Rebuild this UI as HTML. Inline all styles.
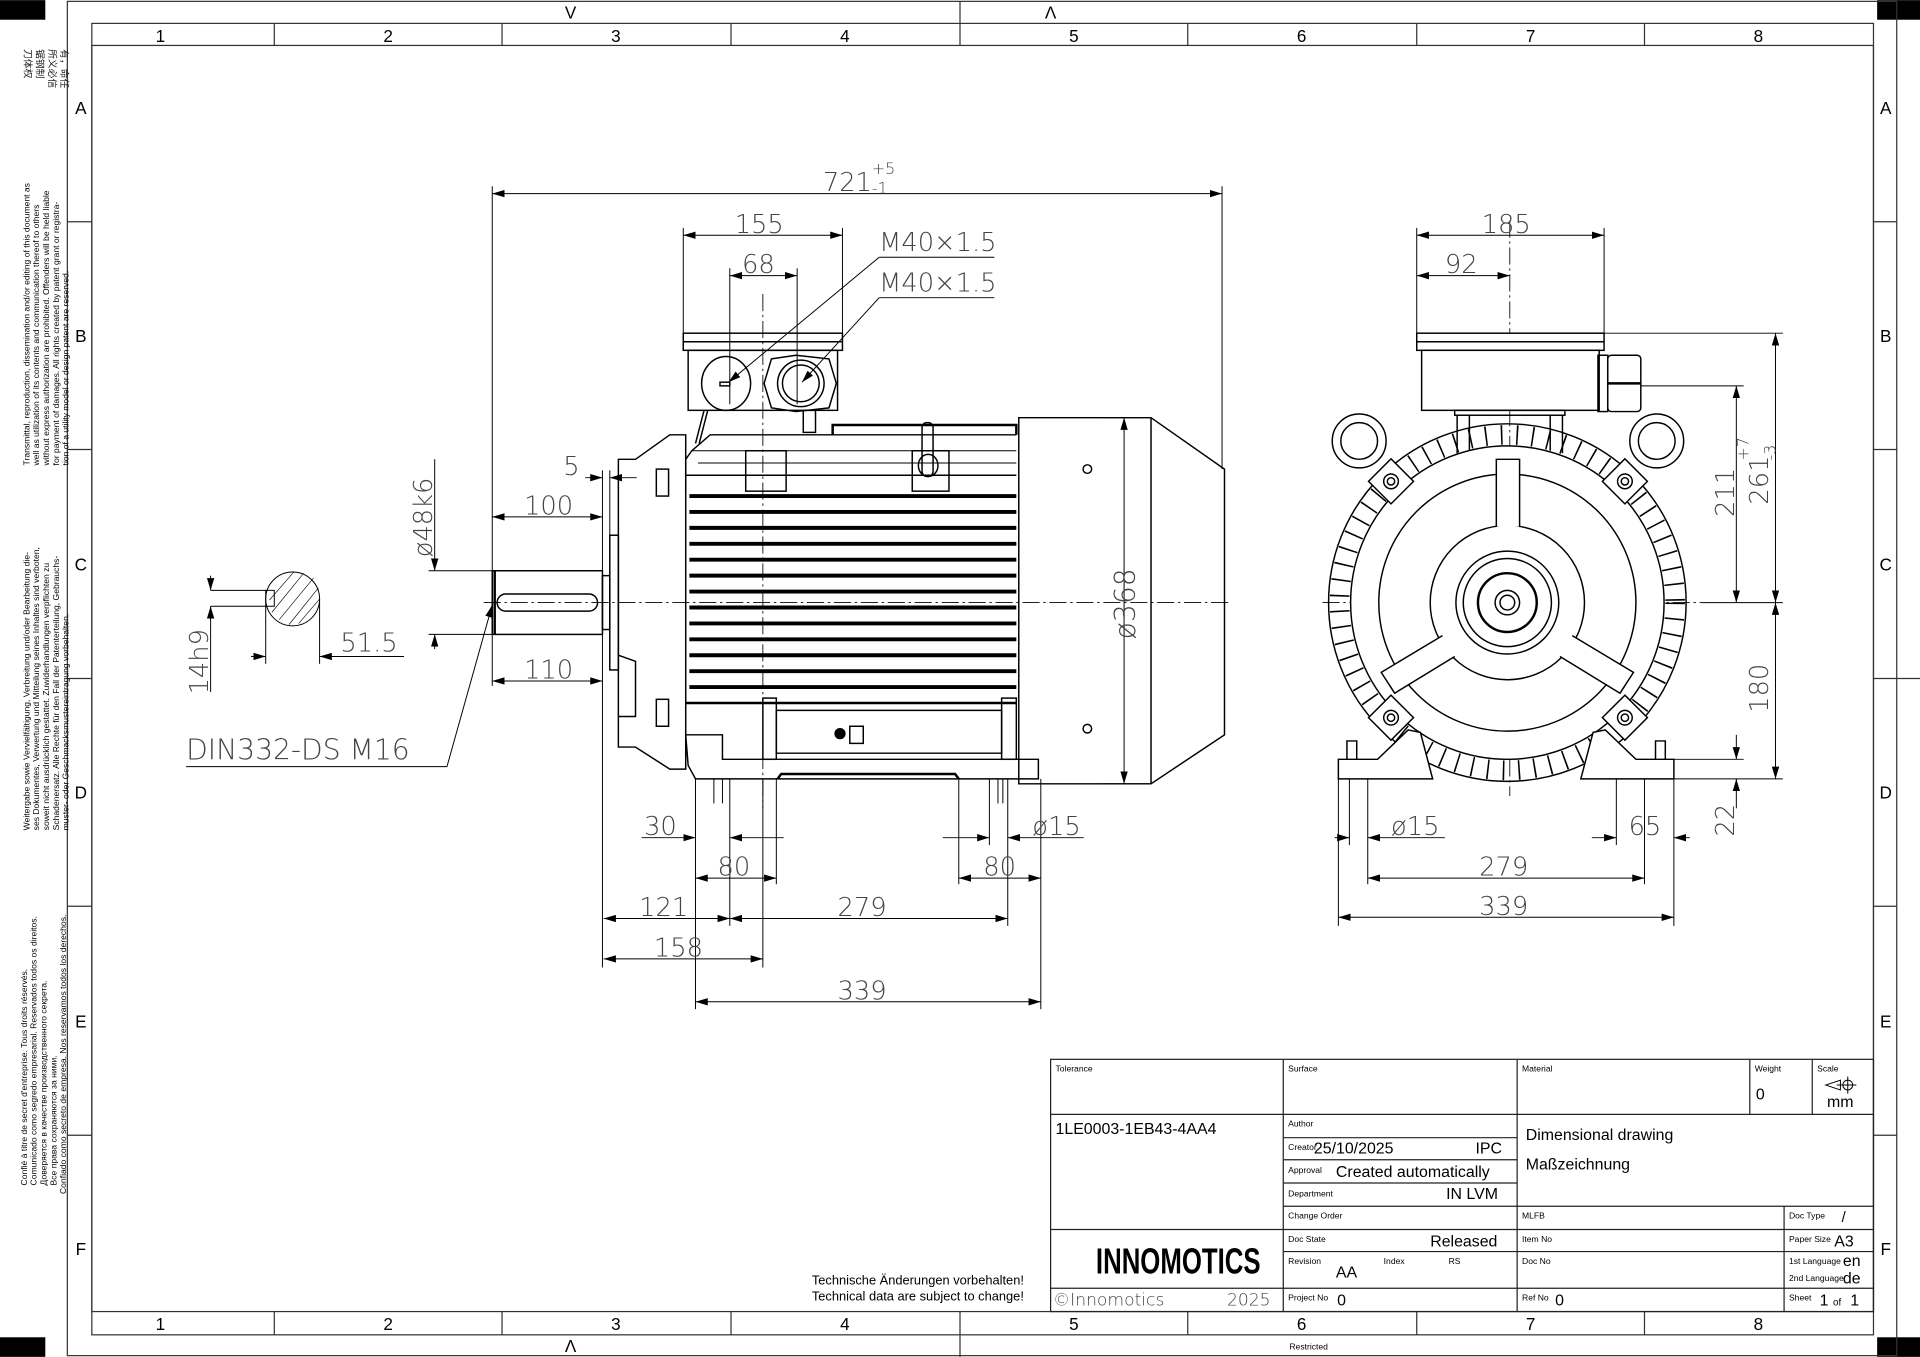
<!DOCTYPE html>
<html><head><meta charset="utf-8"><style>
html,body{margin:0;padding:0;background:#fff;}
svg{display:block;}
.d{font-family:"DejaVu Sans","Liberation Sans",sans-serif;font-weight:200;fill:#444;font-size:21px;}
.t{font-family:"Liberation Sans",sans-serif;fill:#000;}
.s{font-family:"Liberation Sans",sans-serif;font-size:7px;fill:#000;}
</style></head><body>
<svg width="1920" height="1357" viewBox="0 0 1568 1108" xmlns="http://www.w3.org/2000/svg">
<defs>
<marker id="a" viewBox="0 0 10 6" refX="10" refY="3" markerWidth="10" markerHeight="6" orient="auto-start-reverse" markerUnits="userSpaceOnUse"><path d="M0,0 L10,3 L0,6z" fill="#000"/></marker>
</defs>
<rect width="1568" height="1108" fill="#fff"/>
<rect x="0" y="0" width="37" height="16" fill="#000"/>
<rect x="0" y="1092" width="37" height="16" fill="#000"/>
<rect x="1533" y="0" width="35" height="16" fill="#000"/>
<rect x="1533" y="1092" width="35" height="16" fill="#000"/>
<g fill="none" stroke="#333" stroke-width="1">
<rect x="55" y="1" width="1494" height="1106"/>
<rect x="75" y="19" width="1455" height="1071"/>
<rect x="75" y="37" width="1455" height="1034"/>
<line x1="55" y1="554" x2="75" y2="554"/><line x1="1530" y1="554" x2="1568" y2="554"/>
<line x1="75" y1="181" x2="55" y2="181"/><line x1="75" y1="367" x2="55" y2="367"/><line x1="75" y1="740" x2="55" y2="740"/><line x1="75" y1="927" x2="55" y2="927"/>
<line x1="1530" y1="181" x2="1549" y2="181"/><line x1="1530" y1="367" x2="1549" y2="367"/><line x1="1530" y1="740" x2="1549" y2="740"/><line x1="1530" y1="927" x2="1549" y2="927"/>
<line x1="224" y1="19" x2="224" y2="37"/><line x1="410" y1="19" x2="410" y2="37"/><line x1="597" y1="19" x2="597" y2="37"/><line x1="784" y1="1" x2="784" y2="37"/><line x1="970" y1="19" x2="970" y2="37"/><line x1="1157" y1="19" x2="1157" y2="37"/><line x1="1343" y1="19" x2="1343" y2="37"/>
<line x1="224" y1="1071" x2="224" y2="1090"/><line x1="410" y1="1071" x2="410" y2="1090"/><line x1="597" y1="1071" x2="597" y2="1090"/><line x1="784" y1="1071" x2="784" y2="1108"/><line x1="970" y1="1071" x2="970" y2="1090"/><line x1="1157" y1="1071" x2="1157" y2="1090"/><line x1="1343" y1="1071" x2="1343" y2="1090"/>
</g>
<g class="t" font-size="14" fill="#333" text-anchor="middle">
<text x="131" y="34">1</text><text x="317" y="34">2</text><text x="503" y="34">3</text><text x="690" y="34">4</text><text x="877" y="34">5</text><text x="1063" y="34">6</text><text x="1250" y="34">7</text><text x="1436" y="34">8</text>
<text x="131" y="1086">1</text><text x="317" y="1086">2</text><text x="503" y="1086">3</text><text x="690" y="1086">4</text><text x="877" y="1086">5</text><text x="1063" y="1086">6</text><text x="1250" y="1086">7</text><text x="1436" y="1086">8</text>
<text x="466" y="15">V</text><text x="858" y="15">Λ</text><text x="466" y="1104">Λ</text>
<text x="66" y="93">A</text><text x="66" y="279">B</text><text x="66" y="466">C</text><text x="66" y="652">D</text><text x="66" y="839">E</text><text x="66" y="1025">F</text>
<text x="1540" y="93">A</text><text x="1540" y="279">B</text><text x="1540" y="466">C</text><text x="1540" y="652">D</text><text x="1540" y="839">E</text><text x="1540" y="1025">F</text>
</g>
<g class="t" font-size="7" fill="#222">
<text transform="translate(24,380) rotate(-90)">Transmittal, reproduction, dissemination and/or editing of this document as</text>
<text transform="translate(32,380) rotate(-90)">well as utilization of its contents and communication thereof to others</text>
<text transform="translate(40,380) rotate(-90)">without express authorization are prohibited. Offenders will be held liable</text>
<text transform="translate(48,380) rotate(-90)">for payment of damages. All rights created by patent grant or registra-</text>
<text transform="translate(56,380) rotate(-90)">tion of a utility model or design patent are reserved.</text>
<text transform="translate(24,678) rotate(-90)">Weitergabe sowie Vervielfältigung, Verbreitung und/oder Bearbeitung die-</text>
<text transform="translate(32,678) rotate(-90)">ses Dokumentes, Verwertung und Mitteilung seines Inhaltes sind verboten,</text>
<text transform="translate(40,678) rotate(-90)">soweit nicht ausdrücklich gestattet. Zuwiderhandlungen verpflichten zu</text>
<text transform="translate(48,678) rotate(-90)">Schadenersatz. Alle Rechte für den Fall der Patenterteilung, Gebrauchs-</text>
<text transform="translate(56,678) rotate(-90)">muster- oder Geschmacksmustereintragung vorbehalten.</text>
<text transform="translate(22,968) rotate(-90)">Confié à titre de secret d'entreprise. Tous droits réservés.</text>
<text transform="translate(30,968) rotate(-90)">Comunicado como segredo empresarial. Reservados todos os direitos.</text>
<text transform="translate(38,968) rotate(-90)">Доверяется в качестве производственного секрета.</text>
<text transform="translate(46,968) rotate(-90)">Все права сохраняются за ними.</text>
<text transform="translate(54,975) rotate(-90)">Confiado como secreto de empresa. Nos reservamos todos los derechos.</text>
</g>
<g font-family="'Noto Sans CJK SC',sans-serif" font-size="8" fill="#222">
<text transform="translate(20,40) rotate(90)">刀体权</text><text transform="translate(30,40) rotate(90)">锯钢制</text><text transform="translate(40,40) rotate(90)">所义必信</text><text transform="translate(50,40) rotate(90)">有，命任</text>
</g>

<!-- SIDE VIEW -->
<g stroke="#000" fill="none" stroke-width="1.2">
<line x1="395" y1="492" x2="1005" y2="492" stroke-dasharray="14 3 2 3" stroke-width="0.7"/>
<line x1="623" y1="240" x2="623" y2="660" stroke-dasharray="14 3 2 3" stroke-width="0.7"/>
<rect x="402" y="466" width="90" height="52"/>
<line x1="404" y1="466" x2="404" y2="518" stroke-width="2"/>
<rect x="406" y="485" width="82" height="14" rx="7"/>
<rect x="492" y="470" width="6" height="44"/>
<rect x="498" y="437" width="7" height="110"/>
<path d="M505,375 L519,375 L547,355 L560,355 L560,628 L547,628 L519,610 L505,610 Z"/>
<path d="M505,585 L519,585 L519,540 L505,535"/>
<rect x="536" y="383" width="10" height="22"/><rect x="536" y="571" width="10" height="22"/>
<path d="M560,400 L560,375 L565,368 L580,355 L830,355"/>
<path d="M560,388 L830,388" />
<rect x="609" y="368" width="33" height="33"/>
<rect x="745" y="368" width="30" height="33"/>
<rect x="753" y="345" width="9" height="44" rx="4"/>
<ellipse cx="758" cy="380" rx="8" ry="9"/>
<path d="M680,355 L680,347 L830,347 L830,355" stroke-width="2"/>
<path d="M565,368 L830,368 M570,378 L830,378" stroke-width="0.8"/>
<g stroke-width="3.2">
<line x1="563" y1="405" x2="830" y2="405"/><line x1="563" y1="418" x2="830" y2="418"/><line x1="563" y1="431" x2="830" y2="431"/><line x1="563" y1="444" x2="830" y2="444"/><line x1="563" y1="457" x2="830" y2="457"/><line x1="563" y1="470" x2="830" y2="470"/><line x1="563" y1="483" x2="830" y2="483"/><line x1="563" y1="496" x2="830" y2="496"/><line x1="563" y1="509" x2="830" y2="509"/><line x1="563" y1="522" x2="830" y2="522"/><line x1="563" y1="535" x2="830" y2="535"/><line x1="563" y1="548" x2="830" y2="548"/><line x1="563" y1="561" x2="830" y2="561"/>
</g>
<path d="M560,574 L830,574" stroke-width="2"/>
<rect x="623" y="570" width="11" height="50"/><rect x="818" y="570" width="12" height="50"/>
<path d="M634,580 L818,580 L818,615 L634,615 Z"/>
<path d="M560,600 L590,600 L590,620 L830,620 L848,620 L848,636 L568,636 L562,625 Z"/>
<path d="M635,636 L638,632 L780,632 L783,636" stroke-width="2"/>
<circle cx="686" cy="599" r="4" fill="#000"/><rect x="694" y="593" width="11" height="14"/>
<rect x="558" y="272" width="130" height="14"/>
<line x1="558" y1="279" x2="688" y2="279"/>
<rect x="562" y="286" width="122" height="49"/>
<ellipse cx="593" cy="313" rx="20" ry="22"/>
<rect x="588" y="312" width="8" height="3"/>
<path d="M630,293 L650,290 L677,293 L683,313 L677,333 L650,336 L630,333 L624,313 Z"/>
<circle cx="654" cy="313" r="19"/><circle cx="654" cy="313" r="15"/>
<path d="M575,335 L568,362 M578,335 L571,362" />
<rect x="656" y="335" width="10" height="18"/>
<path d="M832,341 L940,341 L1000,383 L1000,600 L940,640 L832,640 Z"/>
<line x1="940" y1="341" x2="940" y2="640"/>
<circle cx="888" cy="383" r="3.5"/><circle cx="888" cy="595" r="3.5"/>
</g>

<g stroke="#000" stroke-width="0.8" fill="none">
<line x1="402" y1="152" x2="402" y2="560"/><line x1="998" y1="152" x2="998" y2="383"/>
<line x1="402" y1="158" x2="998" y2="158" marker-start="url(#a)" marker-end="url(#a)"/>
<line x1="558" y1="186" x2="558" y2="272"/><line x1="688" y1="186" x2="688" y2="272"/>
<line x1="558" y1="192" x2="688" y2="192" marker-start="url(#a)" marker-end="url(#a)"/>
<line x1="596" y1="219" x2="596" y2="330"/><line x1="651" y1="219" x2="651" y2="330"/>
<line x1="596" y1="225" x2="651" y2="225" marker-start="url(#a)" marker-end="url(#a)"/>
<path d="M718,210 L595,312" marker-end="url(#a)"/><line x1="718" y1="210" x2="812" y2="210"/>
<path d="M718,243 L655,312" marker-end="url(#a)"/><line x1="718" y1="243" x2="812" y2="243"/>
<line x1="478" y1="390" x2="492" y2="390" marker-end="url(#a)"/><line x1="520" y1="390" x2="498" y2="390" marker-end="url(#a)"/>
<line x1="492" y1="384" x2="492" y2="470"/><line x1="498" y1="384" x2="498" y2="437"/>
<line x1="402" y1="422" x2="492" y2="422" marker-start="url(#a)" marker-end="url(#a)"/>
<line x1="402" y1="556" x2="492" y2="556" marker-start="url(#a)" marker-end="url(#a)"/>
<line x1="492" y1="518" x2="492" y2="790"/>
<line x1="350" y1="466" x2="402" y2="466"/><line x1="350" y1="518" x2="402" y2="518"/>
<line x1="355" y1="455" x2="355" y2="466" marker-end="url(#a)"/><line x1="355" y1="530" x2="355" y2="518" marker-end="url(#a)"/>
<line x1="355" y1="375" x2="355" y2="455"/>
<line x1="918" y1="341" x2="918" y2="640" marker-start="url(#a)" marker-end="url(#a)"/>
<line x1="900" y1="341" x2="940" y2="341"/><line x1="900" y1="640" x2="940" y2="640"/>
<path d="M152,626 L365,626 L402,494" marker-end="url(#a)"/>
<circle cx="239" cy="489" r="22"/>
<g stroke-width="0.5"><line x1="222" y1="500" x2="248" y2="468"/><line x1="228" y1="506" x2="256" y2="472"/><line x1="236" y1="510" x2="260" y2="480"/><line x1="244" y1="509" x2="261" y2="489"/><line x1="220" y1="490" x2="240" y2="467"/></g>
<rect x="217" y="482" width="7" height="13"/>
<line x1="172" y1="482" x2="217" y2="482"/><line x1="172" y1="495" x2="217" y2="495"/>
<line x1="172" y1="470" x2="172" y2="482" marker-end="url(#a)"/><line x1="172" y1="508" x2="172" y2="495" marker-end="url(#a)"/>
<line x1="172" y1="508" x2="172" y2="565"/>
<line x1="217" y1="495" x2="217" y2="542"/><line x1="261" y1="489" x2="261" y2="542"/>
<line x1="205" y1="536" x2="217" y2="536" marker-end="url(#a)"/><line x1="330" y1="536" x2="261" y2="536" marker-end="url(#a)"/>
<line x1="568" y1="636" x2="568" y2="824"/><line x1="596" y1="636" x2="596" y2="756"/><line x1="623" y1="636" x2="623" y2="790"/><line x1="634" y1="636" x2="634" y2="722"/>
<line x1="583" y1="636" x2="583" y2="656"/><line x1="590" y1="636" x2="590" y2="656"/>
<line x1="808" y1="636" x2="808" y2="690"/><line x1="823" y1="636" x2="823" y2="756"/><line x1="783" y1="636" x2="783" y2="722"/><line x1="850" y1="636" x2="850" y2="824"/>
<line x1="815" y1="636" x2="815" y2="656"/><line x1="819" y1="636" x2="819" y2="656"/>
<line x1="524" y1="684" x2="568" y2="684" marker-end="url(#a)"/><line x1="640" y1="684" x2="596" y2="684" marker-end="url(#a)"/>
<line x1="568" y1="717" x2="634" y2="717" marker-start="url(#a)" marker-end="url(#a)"/>
<line x1="783" y1="717" x2="850" y2="717" marker-start="url(#a)" marker-end="url(#a)"/>
<line x1="770" y1="684" x2="808" y2="684" marker-end="url(#a)"/><line x1="885" y1="684" x2="823" y2="684" marker-end="url(#a)"/>
<line x1="493" y1="750" x2="596" y2="750" marker-start="url(#a)" marker-end="url(#a)"/>
<line x1="596" y1="750" x2="823" y2="750" marker-start="url(#a)" marker-end="url(#a)"/>
<line x1="493" y1="783" x2="623" y2="783" marker-start="url(#a)" marker-end="url(#a)"/>
<line x1="568" y1="818" x2="850" y2="818" marker-start="url(#a)" marker-end="url(#a)"/>
</g>
<g class="d">
<text x="672" y="156">721</text><text x="712" y="142" style="font-size:13px">+5</text><text x="712" y="158" style="font-size:13px">-1</text>
<text x="600" y="190">155</text><text x="606" y="223">68</text>
<text x="718" y="205">M40×1.5</text><text x="718" y="238">M40×1.5</text>
<text x="460" y="388">5</text><text x="428" y="420">100</text><text x="428" y="554">110</text>
<text transform="translate(353,455) rotate(-90)">ø48k6</text>
<text transform="translate(927,522) rotate(-90)" style="font-size:23px">ø368</text>
<text x="152" y="620" style="font-size:23px">DIN332-DS M16</text>
<text transform="translate(170,567) rotate(-90)">14h9</text>
<text x="278" y="532">51.5</text>
<text x="526" y="682">30</text><text x="586" y="715">80</text><text x="803" y="715">80</text>
<text x="843" y="682">ø15</text>
<text x="522" y="748">121</text><text x="684" y="748">279</text><text x="534" y="781">158</text><text x="684" y="816">339</text>
</g>

<!-- FRONT VIEW -->
<g stroke="#000" fill="none" stroke-width="1.2">
<line x1="1080" y1="492" x2="1390" y2="492" stroke-dasharray="14 3 2 3" stroke-width="0.7"/>
<line x1="1233" y1="180" x2="1233" y2="650" stroke-dasharray="14 3 2 3" stroke-width="0.7"/>
<circle cx="1231" cy="492" r="137" stroke-width="16" stroke-dasharray="1.3 11.5"/>
<circle cx="1231" cy="492" r="146"/>
<circle cx="1231" cy="492" r="128" fill="#fff"/>
<circle cx="1231" cy="492" r="105"/>
<circle cx="1231" cy="492" r="63"/>
<circle cx="1231" cy="492" r="42"/><circle cx="1231" cy="492" r="36"/>
<circle cx="1231" cy="492" r="24" stroke-width="2"/>
<circle cx="1231" cy="492" r="10"/><circle cx="1231" cy="492" r="6"/>
<path d="M1222,430 L1222,375 L1241,375 L1241,430" fill="#fff"/>
<path d="M1178,519 L1128,549 L1139,566 L1188,536" fill="#fff"/>
<path d="M1284,519 L1334,549 L1323,566 L1274,536" fill="#fff"/>
<rect x="1157" y="272" width="153" height="14" fill="#fff"/>
<line x1="1157" y1="279" x2="1310" y2="279"/>
<rect x="1161" y="286" width="145" height="49" fill="#fff"/>
<rect x="1305" y="290" width="8" height="46"/><rect x="1313" y="290" width="27" height="46" rx="3"/>
<line x1="1313" y1="313" x2="1340" y2="313" stroke-width="2"/>
<rect x="1188" y="335" width="90" height="4"/>
<path d="M1190,339 L1190,370 M1200,339 L1200,368 M1266,339 L1266,368 M1276,339 L1276,370"/>
<circle cx="1110" cy="360" r="22" fill="#fff"/><circle cx="1110" cy="360" r="15"/>
<circle cx="1353" cy="360" r="22" fill="#fff"/><circle cx="1353" cy="360" r="15"/>
<g fill="#fff">
<rect x="1123" y="380" width="26" height="26" transform="rotate(45 1136 393)"/>
<rect x="1314" y="380" width="26" height="26" transform="rotate(45 1327 393)"/>
<rect x="1123" y="573" width="26" height="26" transform="rotate(45 1136 586)"/>
<rect x="1314" y="573" width="26" height="26" transform="rotate(45 1327 586)"/>
</g>
<circle cx="1136" cy="393" r="6"/><circle cx="1136" cy="393" r="3"/>
<circle cx="1327" cy="393" r="6"/><circle cx="1327" cy="393" r="3"/>
<circle cx="1136" cy="586" r="6"/><circle cx="1136" cy="586" r="3"/>
<circle cx="1327" cy="586" r="6"/><circle cx="1327" cy="586" r="3"/>
<path d="M1093,636 L1093,620 L1125,620 L1150,596 L1160,598 L1170,636 Z" fill="#fff"/>
<path d="M1367,636 L1367,620 L1336,620 L1311,596 L1301,598 L1291,636 Z" fill="#fff"/>
<path d="M1100,620 L1100,605 L1108,605 L1108,620 M1360,620 L1360,605 L1352,605 L1352,620"/>
</g>
<g stroke="#000" stroke-width="0.8" fill="none">
<line x1="1157" y1="186" x2="1157" y2="272"/><line x1="1310" y1="186" x2="1310" y2="272"/>
<line x1="1157" y1="192" x2="1310" y2="192" marker-start="url(#a)" marker-end="url(#a)"/>
<line x1="1157" y1="225" x2="1233" y2="225" marker-start="url(#a)" marker-end="url(#a)"/>
<line x1="1310" y1="272" x2="1456" y2="272"/><line x1="1340" y1="315" x2="1424" y2="315"/>
<line x1="1390" y1="492" x2="1456" y2="492"/><line x1="1367" y1="620" x2="1424" y2="620"/><line x1="1367" y1="636" x2="1456" y2="636"/>
<line x1="1450" y1="272" x2="1450" y2="492" marker-start="url(#a)" marker-end="url(#a)"/>
<line x1="1450" y1="492" x2="1450" y2="636" marker-start="url(#a)" marker-end="url(#a)"/>
<line x1="1418" y1="315" x2="1418" y2="492" marker-start="url(#a)" marker-end="url(#a)"/>
<line x1="1418" y1="600" x2="1418" y2="620" marker-end="url(#a)"/><line x1="1418" y1="660" x2="1418" y2="636" marker-end="url(#a)"/>
<line x1="1093" y1="636" x2="1093" y2="756"/><line x1="1367" y1="636" x2="1367" y2="756"/>
<line x1="1117" y1="636" x2="1117" y2="722"/><line x1="1343" y1="636" x2="1343" y2="722"/>
<line x1="1102" y1="636" x2="1102" y2="690"/><line x1="1320" y1="636" x2="1320" y2="690"/>
<line x1="1117" y1="717" x2="1343" y2="717" marker-start="url(#a)" marker-end="url(#a)"/>
<line x1="1093" y1="749" x2="1367" y2="749" marker-start="url(#a)" marker-end="url(#a)"/>
<line x1="1180" y1="684" x2="1117" y2="684" marker-end="url(#a)"/><line x1="1090" y1="684" x2="1102" y2="684" marker-end="url(#a)"/>
<line x1="1300" y1="684" x2="1320" y2="684" marker-end="url(#a)"/><line x1="1380" y1="684" x2="1367" y2="684" marker-end="url(#a)"/>
</g>
<g class="d">
<text x="1210" y="190">185</text><text x="1180" y="223">92</text>
<text transform="translate(1444,412) rotate(-90)">261</text><text transform="translate(1428,376) rotate(-90)" style="font-size:13px">+7</text><text transform="translate(1450,376) rotate(-90)" style="font-size:13px">-3</text>
<text transform="translate(1416,422) rotate(-90)">211</text>
<text transform="translate(1444,582) rotate(-90)">180</text>
<text transform="translate(1416,683) rotate(-90)">22</text>
<text x="1136" y="682">ø15</text><text x="1330" y="682">65</text>
<text x="1208" y="715">279</text><text x="1208" y="747">339</text>
</g>

<!-- TITLE BLOCK -->
<g stroke="#222" stroke-width="1" fill="none">
<rect x="858" y="865" width="672" height="206"/>
<line x1="858" y1="910" x2="1530" y2="910"/>
<line x1="1048" y1="865" x2="1048" y2="1071"/>
<line x1="1239" y1="865" x2="1239" y2="1071"/>
<line x1="1429" y1="865" x2="1429" y2="910"/><line x1="1480" y1="865" x2="1480" y2="910"/>
<line x1="1048" y1="929" x2="1239" y2="929"/><line x1="1048" y1="947" x2="1239" y2="947"/><line x1="1048" y1="966" x2="1239" y2="966"/>
<line x1="1048" y1="985" x2="1530" y2="985"/>
<line x1="858" y1="1004" x2="1530" y2="1004"/>
<line x1="1048" y1="1022" x2="1530" y2="1022"/>
<line x1="858" y1="1052" x2="1530" y2="1052"/>
<line x1="1457" y1="985" x2="1457" y2="1071"/>
</g>
<g class="s">
<text x="862" y="875">Tolerance</text><text x="1052" y="875">Surface</text><text x="1243" y="875">Material</text><text x="1433" y="875">Weight</text><text x="1484" y="875">Scale</text>
<text x="1052" y="920">Author</text><text x="1052" y="939">Creator</text><text x="1052" y="958">Approval</text><text x="1052" y="977">Department</text>
<text x="1052" y="995">Change Order</text><text x="1243" y="995">MLFB</text><text x="1461" y="995">Doc Type</text>
<text x="1052" y="1014">Doc State</text><text x="1243" y="1014">Item No</text><text x="1461" y="1014">Paper Size</text>
<text x="1052" y="1032">Revision</text><text x="1130" y="1032">Index</text><text x="1183" y="1032">RS</text><text x="1243" y="1032">Doc No</text>
<text x="1461" y="1032">1st Language</text><text x="1461" y="1046">2nd Language</text>
<text x="1052" y="1062">Project No</text><text x="1243" y="1062">Ref No</text><text x="1461" y="1062">Sheet</text>
<text x="1053" y="1102">Restricted</text>
</g>
<g class="t" font-size="13">
<text x="1434" y="898">0</text><text x="1492" y="904">mm</text>
<text x="862" y="926">1LE0003-1EB43-4AA4</text>
<text x="1073" y="942">25/10/2025</text><text x="1205" y="942">IPC</text>
<text x="1091" y="961">Created automatically</text><text x="1181" y="979">IN LVM</text>
<text x="1246" y="931">Dimensional drawing</text><text x="1246" y="955">Maßzeichnung</text>
<text x="1168" y="1018">Released</text><text x="1091" y="1043">AA</text>
<text x="1498" y="1018">A3</text><text x="1505" y="1034">en</text><text x="1505" y="1048">de</text>
<text x="1092" y="1066">0</text><text x="1270" y="1066">0</text>
<text x="1486" y="1066">1</text><text x="1497" y="1066" font-size="8">of</text><text x="1511" y="1066">1</text>
<text x="1504" y="998" font-size="12">/</text>
</g>
<path d="M1491,886 L1503,882 L1503,890 Z M1500,886 L1516,886 M1509,879 L1509,893" stroke="#000" fill="none" stroke-width="0.8"/>
<circle cx="1509" cy="886" r="4" fill="none" stroke="#000" stroke-width="0.8"/>
<text x="895" y="1040" font-family="'Liberation Sans Narrow','Liberation Sans',sans-serif" font-weight="bold" font-size="27" transform="translate(895,1040) scale(0.78,1.1) translate(-895,-1040)">INNOMOTICS</text>
<g class="d"><text x="860" y="1066" style="font-size:14px">©Innomotics</text><text x="1002" y="1066" style="font-size:14px">2025</text></g>
<g class="t" font-size="10.5"><text x="663" y="1049">Technische Änderungen vorbehalten!</text><text x="663" y="1062">Technical data are subject to change!</text></g>
</svg>
</body></html>
